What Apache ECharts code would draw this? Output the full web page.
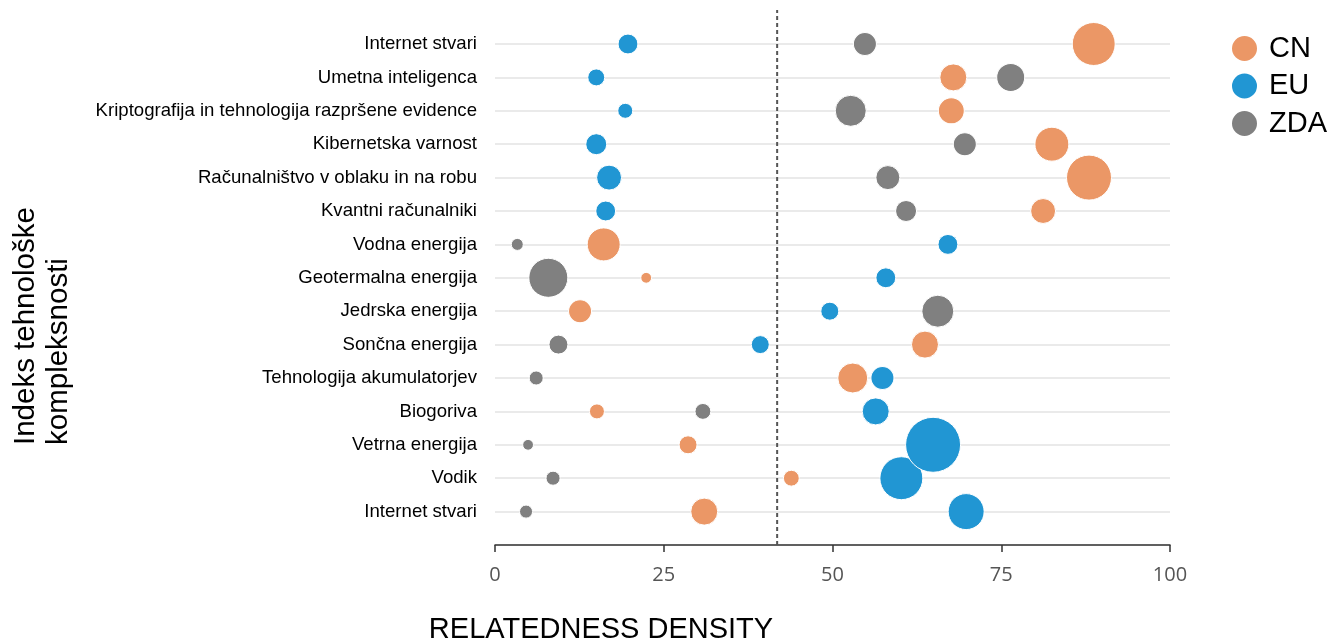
<!DOCTYPE html>
<html><head><meta charset="utf-8">
<script src="https://cdn.jsdelivr.net/npm/echarts@6/dist/echarts.min.js"></script>
<style>html,body{margin:0;padding:0;background:#fff}#c{width:1343px;height:640px}</style>
</head><body><div id="c"></div>
<script>
// rows listed bottom (1) to top (15)
const categories = ['Internet stvari','Vodik','Vetrna energija','Biogoriva','Tehnologija akumulatorjev','Sončna energija','Jedrska energija','Geotermalna energija','Vodna energija','Kvantni računalniki','Računalništvo v oblaku in na robu','Kibernetska varnost','Kriptografija in tehnologija razpršene evidence','Umetna inteligenca','Internet stvari'];
// relatedness density per row (bottom to top)
const cnX  = [31.0,43.9,28.6,15.1,53.0,63.7,12.6,22.4,16.1,81.2,88.0,82.5,67.6,67.9,88.7];
const euX  = [69.8,60.2,64.9,56.4,57.4,39.3,49.6,57.9,67.1,16.4,16.9,15.0,19.3,15.0,19.7];
const zdaX = [4.6,8.6,4.9,30.8,6.1,9.4,65.6,7.9,3.3,60.9,58.2,69.6,52.7,76.4,54.8];
// bubble weights (bottom to top)
const cnW  = [81,28,36,25,100,81,59,13,121,69,225,128,75,81,205];
const euW  = [144,205,336,81,59,36,36,44,44,44,69,49,25,32,44];
const zdaW = [19,22,13,28,22,40,114,169,16,49,64,59,107,87,59];
const xTicks = [0,25,50,75,100];
const threshold = 41.8;
const seriesNames = ['CN','EU','ZDA'];
const colors = ['#EB9766','#2196D3','#808080'];

const toData = (xs, ws) => xs.map((x,i)=>[x, i+1, ws[i]]);
const sizeFn = v => Math.sqrt(v[2]) * 3;

const chart = echarts.init(document.getElementById('c'));
const mk = (name, xs, ws, color) => ({
  name, type:'scatter', xAxisIndex:0, yAxisIndex:0,
  data: toData(xs, ws), symbolSize: sizeFn,
  itemStyle:{color, opacity:1, borderColor:'#fff', borderWidth:1},
  emphasis:{disabled:true}
});
chart.setOption({
  animation:false,
  color: colors,
  grid:[
    {left:495, right:173, top:44, bottom:95},
    {left:495, right:173, top:10, bottom:95}
  ],
  legend:{
    data: seriesNames, orient:'vertical', left:1225, top:29,
    icon:'circle', itemWidth:27, itemHeight:27, itemGap:8.5,
    textStyle:{fontSize:29, lineHeight:27, color:'#000', fontFamily:'Liberation Sans, Arial, sans-serif', padding:[0,0,0,6]}
  },
  xAxis:[
    {type:'value', gridIndex:0, min:0, max:100, interval:25,
     axisLine:{show:true, lineStyle:{color:'#333', width:1.5}},
     axisTick:{show:true, length:7, lineStyle:{color:'#333', width:1.5}},
     axisLabel:{color:'#555', fontSize:20, margin:20, fontFamily:'Open Sans, sans-serif',
       formatter: v => xTicks.indexOf(v) >= 0 ? String(v) : ''},
     splitLine:{show:false}},
    {type:'value', gridIndex:1, min:0, max:100, show:false}
  ],
  yAxis:[
    {type:'value', gridIndex:0, min:0, max:15, interval:1,
     axisLine:{show:false}, axisTick:{show:false},
     axisLabel:{color:'#000', fontSize:18.6, margin:18, fontFamily:'Liberation Sans, Arial, sans-serif',
       padding:[0,0,10,0],
       formatter: v => (v>=1 && v<=15) ? categories[v-1] : ''},
     splitLine:{show:true, lineStyle:{color:'#e3e3e3', width:1.5}}},
    {type:'value', gridIndex:1, min:0, max:1, show:false}
  ],
  graphic:[
    {type:'text', x:601, y:630, style:{text:'RELATEDNESS DENSITY', fill:'#000', font:'29px "Liberation Sans", Arial, sans-serif', align:'center', verticalAlign:'middle'}},
    {type:'text', x:9, y:445, rotation:Math.PI/2, style:{text:'Indeks tehnološke\nkompleksnosti', fill:'#000', font:'29.5px "Liberation Sans", Arial, sans-serif', align:'left', verticalAlign:'top', lineHeight:33}}
  ],
  series:[
    mk('CN', cnX, cnW, colors[0]),
    mk('EU', euX, euW, colors[1]),
    mk('ZDA', zdaX, zdaW, colors[2]),
    {type:'line', xAxisIndex:1, yAxisIndex:1, data:[[threshold,0],[threshold,1]],
     symbol:'none', silent:true, lineStyle:{color:'#555', width:2, type:[4,3]}, z:1}
  ]
});
</script></body></html>
